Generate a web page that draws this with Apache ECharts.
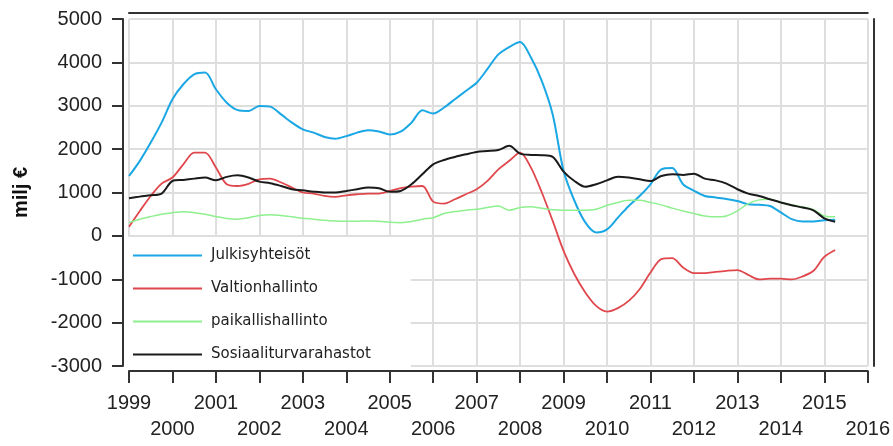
<!DOCTYPE html>
<html>
  <head>
    <meta charset="utf-8" />
    <title>Julkisyhteisöt</title>
    <script src="https://cdn.jsdelivr.net/npm/echarts@6/dist/echarts.min.js"></script>
    <style>
      * {
        margin: 0;
        padding: 0;
      }
      html,
      body,
      #container {
        width: 893px;
        height: 446px;
        background: #fff;
      }
    </style>
  </head>
  <body>
    <div id="container"></div>
    <script>
      // vuodet ja neljännekset 1999Q1 - 2016Q1
      const years = [1999, 2000, 2001, 2002, 2003, 2004, 2005, 2006, 2007, 2008, 2009, 2010, 2011, 2012, 2013, 2014, 2015, 2016];
      const quarters = [];
      years.forEach((y) => {
        ["Q1", "Q2", "Q3", "Q4"].forEach((q) => quarters.push(y + q));
      });
      quarters.length = quarters.length - 3; // viimeinen = 2016Q1

      const names = ["Julkisyhteisöt", "Valtionhallinto", "paikallishallinto", "Sosiaaliturvarahastot"];

      const julkisyhteisot = [
        1380, 1730, 2150, 2610, 3150, 3495, 3725, 3765, 3380, 3070, 2900, 2880,
        2995, 2980, 2800, 2610, 2455, 2380, 2280, 2240, 2300, 2380, 2435, 2405,
        2340, 2405, 2610, 2895, 2820, 2960, 3150, 3340, 3530, 3850, 4185, 4355,
        4470, 4110, 3570, 2800, 1500, 810, 310, 80, 150, 420, 690, 920,
        1190, 1535, 1565, 1190, 1040, 920, 885, 850, 805, 730, 715, 690,
        540, 385, 330, 330, 360, 370
      ];
      const valtionhallinto = [
        210, 575, 920, 1205, 1345, 1650, 1920, 1920, 1575, 1190, 1150, 1200,
        1305, 1320, 1230, 1115, 1000, 975, 920, 900, 935, 960, 975, 975,
        1035, 1100, 1135, 1150, 790, 745, 845, 960, 1075, 1270, 1535, 1730,
        1920, 1575, 1000, 345, -345, -885, -1305, -1615, -1745, -1665, -1500, -1230,
        -845, -535, -515, -730, -860, -860, -830, -805, -790, -900, -1005, -985,
        -985, -1005, -935, -805, -485, -325
      ];
      const paikallishallinto = [
        305, 385, 445, 500, 535, 555, 535, 500, 445, 400, 385, 420,
        470, 485, 470, 440, 405, 385, 360, 345, 340, 340, 345, 340,
        315, 305, 330, 385, 420, 515, 560, 590, 615, 655, 690, 590,
        655, 670, 635, 600, 590, 590, 590, 615, 705, 770, 820, 820,
        770, 715, 640, 575, 515, 460, 440, 460, 575, 745, 830, 845,
        770, 715, 670, 605, 460, 440
      ];
      const sosiaaliturvarahastot = [
        870, 905, 935, 975, 1265, 1290, 1320, 1345, 1280, 1360, 1395, 1345,
        1250, 1215, 1150, 1075, 1050, 1020, 1000, 1000, 1035, 1075, 1115, 1100,
        1015, 1035, 1190, 1420, 1650, 1750, 1820, 1880, 1935, 1955, 1980, 2075,
        1895, 1865, 1860, 1820, 1480, 1265, 1130, 1190, 1280, 1365, 1345, 1305,
        1265, 1380, 1420, 1405, 1435, 1320, 1280, 1205, 1075, 975, 920, 845,
        770, 705, 655, 590, 405, 325
      ];

      const colors = ["#1aa7e4", "#e0474c", "#8ef08e", "#1a1a1a"];
      const widths = [2, 1.8, 1.5, 2];

      const axisColor = "#333";
      const gridColor = "#dedede";
      const font = "Liberation Sans, Arial, sans-serif";

      // vuosiluvut kahdessa rivissä: parittomat ylhäällä, parilliset alhaalla
      const yearLabel = (margin, showIdx) => ({
        interval: (idx) => idx % 8 === showIdx,
        hideOverlap: false,
        margin: margin,
        fontFamily: font,
        fontSize: 20,
        color: "#222",
        formatter: (v) => String(parseInt(v)),
      });

      const myChart = echarts.init(document.getElementById("container"));
      myChart.setOption({
        animation: false,
        grid: { left: 129, right: 25, top: 19, bottom: 80 },
        legend: {
          orient: "vertical",
          left: 128,
          top: 237,
          itemWidth: 69,
          itemHeight: 14,
          itemGap: 18,
          padding: [11, 40, 8, 4],
          backgroundColor: "#fff",
          data: names,
          itemStyle: { opacity: 0 },
          textStyle: { fontFamily: "DejaVu Sans", fontSize: 15, color: "#222", padding: [0, 0, 0, 4] },
        },
        xAxis: [
          {
            type: "category",
            data: quarters,
            boundaryGap: false,
            offset: 5,
            axisLine: { onZero: false, lineStyle: { color: axisColor, width: 2 } },
            axisTick: { interval: 3, length: 12, lineStyle: { color: axisColor, width: 2 } },
            splitLine: { show: true, interval: 3, lineStyle: { color: gridColor, width: 2 } },
            axisLabel: yearLabel(22, 0),
          },
          {
            type: "category",
            data: quarters,
            boundaryGap: false,
            position: "bottom",
            offset: 5,
            axisLine: { show: false, onZero: false },
            axisTick: { show: false },
            splitLine: { show: false },
            axisLabel: yearLabel(48, 4),
          },
          {
            type: "category",
            data: quarters,
            position: "top",
            offset: 6,
            axisLine: { onZero: false, lineStyle: { color: axisColor, width: 2 } },
            axisTick: { show: false },
            axisLabel: { show: false },
            splitLine: { show: false },
          },
        ],
        yAxis: [
          {
            type: "value",
            min: -3000,
            max: 5000,
            interval: 1000,
            offset: 6,
            name: "milj €",
            nameLocation: "middle",
            nameRotate: 90,
            nameGap: 92,
            nameTextStyle: { fontFamily: font, fontSize: 20, fontWeight: "bold", color: "#111" },
            axisLine: { show: true, onZero: false, lineStyle: { color: axisColor, width: 2 } },
            axisTick: { show: true, length: 11, lineStyle: { color: axisColor, width: 2 } },
            splitLine: { show: true, lineStyle: { color: gridColor, width: 2 } },
            axisLabel: {
              margin: 21,
              fontFamily: font,
              fontSize: 20,
              color: "#222",
              formatter: (v) => String(v),
            },
          },
          {
            type: "value",
            min: -3000,
            max: 5000,
            interval: 1000,
            position: "right",
            offset: 6,
            axisLine: { show: true, onZero: false, lineStyle: { color: axisColor, width: 2 } },
            axisTick: { show: false },
            axisLabel: { show: false },
            splitLine: { show: false },
          },
        ],
        series: [julkisyhteisot, valtionhallinto, paikallishallinto, sosiaaliturvarahastot].map((d, i) => ({
          name: names[i],
          type: "line",
          data: d,
          symbol: "none",
          smooth: 0.3,
          color: colors[i],
          lineStyle: { width: widths[i], color: colors[i] },
          z: i === 3 ? 3 : 2,
        })),
      });
    </script>
  </body>
</html>
